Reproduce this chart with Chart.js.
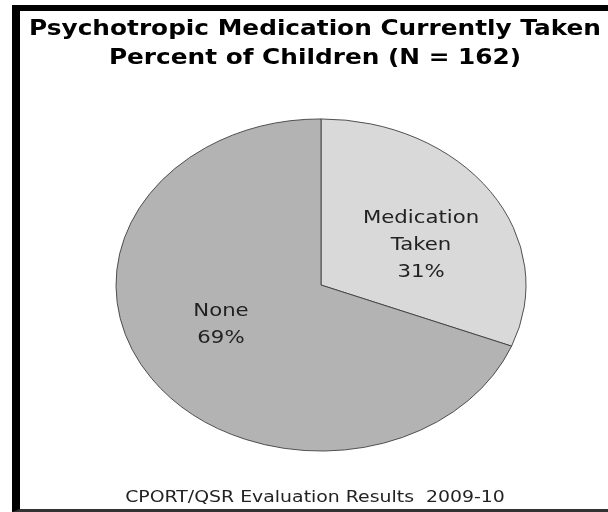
<!DOCTYPE html>
<html>
<head>
<meta charset="utf-8">
<script src="https://cdn.jsdelivr.net/npm/chart.js@4/dist/chart.umd.min.js"></script>
<style>
  html, body { margin: 0; padding: 0; background: #fff; }
  #frame {
    position: absolute; left: 12px; top: 5px; width: 620px; height: 507px;
    border-left: 8px solid #000; border-top: 6px solid #000; border-bottom: 3px solid #333;
    box-sizing: border-box;
  }
  #myChart { position: absolute; left: 0; top: 0; }
</style>
</head>
<body>
<div id="frame"></div>
<canvas id="myChart" width="608" height="512"></canvas>
<script>
// waarden
const categories = [['Medication', 'Taken'], ['None']];
const percents = [31, 69];
const chartTitle = ['Psychotropic Medication Currently Taken', 'Percent of Children (N = 162)'];
const footerText = 'CPORT/QSR Evaluation Results  2009-10';

const sliceColors = ['#d9d9d9', '#b3b3b3'];
const squash = 0.81;   // pie is drawn as an ellipse in the original
const stretch = 1.18;  // and its text is stretched sideways

function wideText(ctx, text, x, y) {
    ctx.save();
    ctx.translate(x, y);
    ctx.scale(stretch, 1);
    ctx.fillText(text, 0, 0);
    ctx.restore();
}

// squash the pie vertically, then write the labels on top
const ellipsePlugin = {
    id: 'ellipse',
    beforeDatasetsDraw(chart) {
        const arc = chart.getDatasetMeta(0).data[0];
        const ctx = chart.ctx;
        ctx.save();
        ctx.translate(arc.x, arc.y);
        ctx.scale(1, squash);
        ctx.translate(-arc.x, -arc.y);
    },
    afterDatasetsDraw(chart) {
        const ctx = chart.ctx;
        ctx.restore();
        ctx.save();
        ctx.font = '18px "DejaVu Sans"';
        ctx.fillStyle = '#222';
        ctx.textAlign = 'center';
        ctx.textBaseline = 'middle';
        chart.getDatasetMeta(0).data.forEach((arc, i) => {
            const mid = (arc.startAngle + arc.endAngle) / 2;
            const cx = arc.x + Math.cos(mid) * arc.outerRadius * 0.59;
            const cy = arc.y + Math.sin(mid) * arc.outerRadius * squash * 0.43;
            const lines = [].concat(chart.data.labels[i], percents[i] + '%');
            const lh = 27;
            lines.forEach((t, j) => {
                wideText(ctx, t, cx, cy + (j - (lines.length - 1) / 2) * lh);
            });
        });

        // title and footer
        const mx = 315;
        ctx.fillStyle = '#000';
        ctx.font = 'bold 21px "DejaVu Sans"';
        wideText(ctx, chartTitle[0], mx, 30);
        wideText(ctx, chartTitle[1], mx, 59);
        ctx.fillStyle = '#222';
        ctx.font = '16px "DejaVu Sans"';
        wideText(ctx, footerText, mx, 498);
        ctx.restore();
    }
};

const renderChart = () => {
    const ctx = document.getElementById('myChart').getContext('2d');
    new Chart(ctx, {
        type: 'pie',
        data: {
            labels: categories,
            datasets: [{
                data: percents,
                backgroundColor: sliceColors,
                borderColor: '#404040',
                borderWidth: 1,
                radius: 205
            }]
        },
        options: {
            responsive: false,
            animation: false,
            layout: { padding: { left: 34, top: 80, bottom: 22 } },
            plugins: {
                legend: { display: false },
                tooltip: { enabled: false }
            }
        },
        plugins: [ellipsePlugin]
    });
};

document.addEventListener('DOMContentLoaded', renderChart);
</script>
</body>
</html>
